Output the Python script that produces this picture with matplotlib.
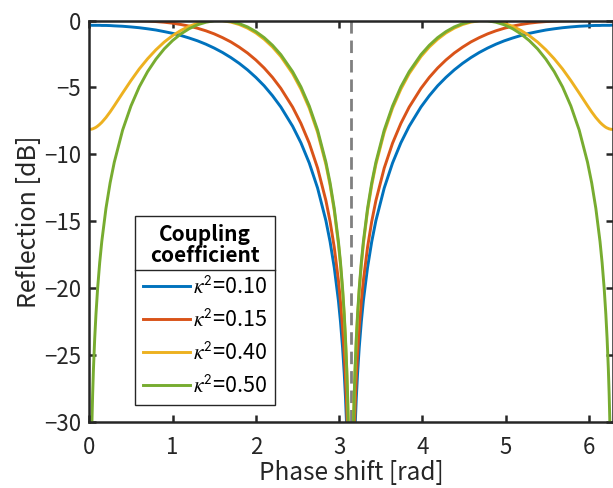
import numpy as np
import matplotlib
matplotlib.use('Agg')
import matplotlib.pyplot as plt
from matplotlib.lines import Line2D

plt.rcParams['font.family'] = ['Noto Sans CJK JP', 'DejaVu Sans']
plt.rcParams['mathtext.fontset'] = 'stix'

# phase shift [rad]
phase = [0, 0.01, 0.02, 0.03, 0.04, 0.05, 0.065, 0.08, 0.1, 0.125, 0.15, 0.2, 0.25, 0.3, 0.4, 0.5, 0.6, 0.7,
         0.8, 0.9, 1.0, 1.1, 1.2, 1.3, 1.4, 1.5, 1.6, 1.7, 1.8, 1.9, 2.0, 2.1, 2.2, 2.3,
         2.4416, 2.5416, 2.6416, 2.7416, 2.8416, 2.8916, 2.9416, 2.9916, 3.0166, 3.0416, 3.0616, 3.0766,
         3.0916, 3.1016, 3.1116, 3.1216, 3.1316, 3.1416,
         3.1516, 3.1616, 3.1716, 3.1816, 3.1916, 3.2066, 3.2216, 3.2416, 3.2666, 3.2916, 3.3416, 3.3916,
         3.4416, 3.5416, 3.6416, 3.7416, 3.8416,
         3.9832, 4.0832, 4.1832, 4.2832, 4.3832, 4.4832, 4.5832, 4.6832, 4.7832, 4.8832, 4.9832, 5.0832,
         5.1832, 5.2832, 5.3832, 5.4832,
         5.5832, 5.6832, 5.7832, 5.8832, 5.9832, 6.0332, 6.0832, 6.1332, 6.1582, 6.1832, 6.2032, 6.2182,
         6.2332, 6.2432, 6.2532, 6.2632, 6.2732, 6.2832]

# reflection [dB]
refl_010 = [-0.35, -0.35, -0.35, -0.36, -0.36, -0.36, -0.36, -0.36, -0.36, -0.36, -0.37, -0.37, -0.38, -0.40,
            -0.43, -0.48, -0.54, -0.62, -0.71, -0.83, -0.96, -1.12, -1.31, -1.52, -1.77, -2.06, -2.39, -2.77,
            -3.20, -3.69, -4.25, -4.88, -5.62, -6.46, -7.90, -9.14, -10.65, -12.52, -14.96, -16.53, -18.45,
            -20.93, -22.51, -24.44, -26.38, -28.18, -30.46, -32.40, -34.90, -38.42, -44.44, -50.00,
            -44.44, -38.42, -34.90, -32.40, -30.46, -28.18, -26.38, -24.44, -22.51, -20.93, -18.45, -16.53,
            -14.96, -12.52, -10.65, -9.14, -7.90, -6.46, -5.62, -4.88, -4.25, -3.69, -3.20, -2.77, -2.39,
            -2.06, -1.77, -1.52, -1.31, -1.12, -0.96, -0.83, -0.71, -0.62, -0.54, -0.48, -0.43, -0.40, -0.38,
            -0.37, -0.37, -0.36, -0.36, -0.36, -0.36, -0.36, -0.36, -0.36, -0.35, -0.35, -0.35]
refl_015 = [-0.00, -0.00, -0.00, -0.00, -0.00, -0.00, -0.00, -0.00, -0.00, -0.00, -0.00, -0.00, -0.00, -0.00,
            -0.00, -0.01, -0.02, -0.04, -0.08, -0.13, -0.20, -0.30, -0.42, -0.58, -0.77, -1.00, -1.28, -1.60,
            -1.99, -2.43, -2.95, -3.55, -4.25, -5.07, -6.47, -7.69, -9.17, -11.03, -13.46, -15.02, -16.94,
            -19.42, -21.00, -22.93, -24.87, -26.67, -28.95, -30.88, -33.38, -36.90, -42.92, -50.00,
            -42.92, -36.90, -33.38, -30.88, -28.95, -26.67, -24.87, -22.93, -21.00, -19.42, -16.94, -15.02,
            -13.46, -11.03, -9.17, -7.69, -6.47, -5.07, -4.25, -3.55, -2.95, -2.43, -1.99, -1.60, -1.28,
            -1.00, -0.77, -0.58, -0.42, -0.30, -0.20, -0.13, -0.08, -0.04, -0.02, -0.01, -0.00, -0.00, -0.00,
            -0.00, -0.00, -0.00, -0.00, -0.00, -0.00, -0.00, -0.00, -0.00, -0.00, -0.00, -0.00]
refl_040 = [-8.14, -8.13, -8.13, -8.11, -8.10, -8.07, -8.03, -7.98, -7.89, -7.76, -7.61, -7.25, -6.83, -6.37,
            -5.42, -4.49, -3.62, -2.86, -2.19, -1.61, -1.13, -0.74, -0.43, -0.21, -0.07, -0.00, -0.02, -0.12,
            -0.30, -0.57, -0.93, -1.40, -1.98, -2.69, -3.97, -5.13, -6.55, -8.36, -10.76, -12.31, -14.21,
            -16.69, -18.26, -20.19, -22.12, -23.92, -26.20, -28.14, -30.64, -34.16, -40.18, -50.00,
            -40.18, -34.16, -30.64, -28.14, -26.20, -23.92, -22.12, -20.19, -18.26, -16.69, -14.21, -12.31,
            -10.76, -8.36, -6.55, -5.13, -3.97, -2.69, -1.98, -1.40, -0.93, -0.57, -0.30, -0.12, -0.02,
            -0.00, -0.07, -0.21, -0.43, -0.74, -1.13, -1.61, -2.19, -2.86, -3.62, -4.49, -5.42, -6.37, -6.83,
            -7.25, -7.61, -7.76, -7.89, -7.98, -8.03, -8.07, -8.10, -8.11, -8.13, -8.13, -8.14]
refl_050 = [-50.00, -40.00, -33.98, -30.46, -27.96, -26.02, -23.75, -21.95, -20.01, -18.08, -16.51, -14.04,
            -12.13, -10.59, -8.19, -6.39, -4.96, -3.82, -2.89, -2.12, -1.50, -1.00, -0.61, -0.32, -0.13, -0.02,
            -0.00, -0.07, -0.23, -0.48, -0.83, -1.28, -1.85, -2.55, -3.82, -4.96, -6.39, -8.19, -10.59, -12.13,
            -14.04, -16.51, -18.08, -20.01, -21.95, -23.75, -26.02, -27.96, -30.46, -33.98, -40.00, -50.00,
            -40.00, -33.98, -30.46, -27.96, -26.02, -23.75, -21.95, -20.01, -18.08, -16.51, -14.04, -12.13,
            -10.59, -8.19, -6.39, -4.96, -3.82, -2.55, -1.85, -1.28, -0.83, -0.48, -0.23, -0.07, -0.00, -0.02,
            -0.13, -0.32, -0.61, -1.00, -1.50, -2.12, -2.89, -3.82, -4.96, -6.39, -8.19, -10.59, -12.13,
            -14.04, -16.51, -18.08, -20.01, -21.95, -23.75, -26.02, -27.96, -30.46, -33.98, -40.00, -50.00]

series = [refl_010, refl_015, refl_040, refl_050]
labels = [r'$\kappa^{\mathsf{2}}$=0.10', r'$\kappa^{\mathsf{2}}$=0.15',
          r'$\kappa^{\mathsf{2}}$=0.40', r'$\kappa^{\mathsf{2}}$=0.50']
colors = ['#0072BD', '#D95319', '#EDB120', '#77AC30']

W, H = 613, 488
fig = plt.figure(figsize=(W / 100, H / 100), dpi=100)
ax = fig.add_axes([89.3 / W, 1 - 422 / H, (612.5 - 89.3) / W, (422 - 20.5) / H])

for y, lab, c in zip(series, labels, colors):
    ax.plot(phase, y, color=c, lw=2.1, label=lab)

# resonance position
ax.axvline(np.pi, color='#808080', lw=2.0, dashes=(4.5, 2.5), zorder=1)

ax.set_xlim(0, 2 * np.pi)
ax.set_ylim(-30, 0)
ax.set_xticks([0, 1, 2, 3, 4, 5, 6])
ax.set_yticks([-30, -25, -20, -15, -10, -5, 0])
for s in ax.spines.values():
    s.set_linewidth(1.8)
    s.set_color('#262626')
ax.tick_params(direction='in', length=5, width=1.8, color='#262626',
               top=True, right=True, labelsize=16, labelcolor='#262626')
ax.tick_params(axis='x', pad=10)
ax.tick_params(axis='y', pad=6)

ax.set_xlabel('Phase shift [rad]', fontsize=17.5, labelpad=0.5, color='#262626')
ax.set_ylabel('Reflection [dB]', fontsize=18, labelpad=1.5, color='#262626')

leg = ax.legend(loc='lower left', bbox_to_anchor=(135 / W, 1 - 405 / H), bbox_transform=fig.transFigure,
                borderaxespad=0, fontsize=15.5, title='Coupling\ncoefficient',
                title_fontproperties={'weight': 'bold', 'size': 15},
                fancybox=False, framealpha=1, edgecolor='#262626', handlelength=2.2,
                handletextpad=0.15, labelspacing=0.5, borderpad=0.35)
leg.get_frame().set_linewidth(1.0)
leg.get_title().set_multialignment('center')
leg.get_title().set_linespacing(1.0)

# separator line under the legend title
fig.canvas.draw()
fb = leg.get_frame().get_window_extent()
tb = leg.get_title().get_window_extent()
ysep = (tb.y0 - 4) / H
fig.add_artist(Line2D([fb.x0 / W, fb.x1 / W], [ysep, ysep], color='#262626', lw=1.0))

fig.savefig('out.png', dpi=100)
